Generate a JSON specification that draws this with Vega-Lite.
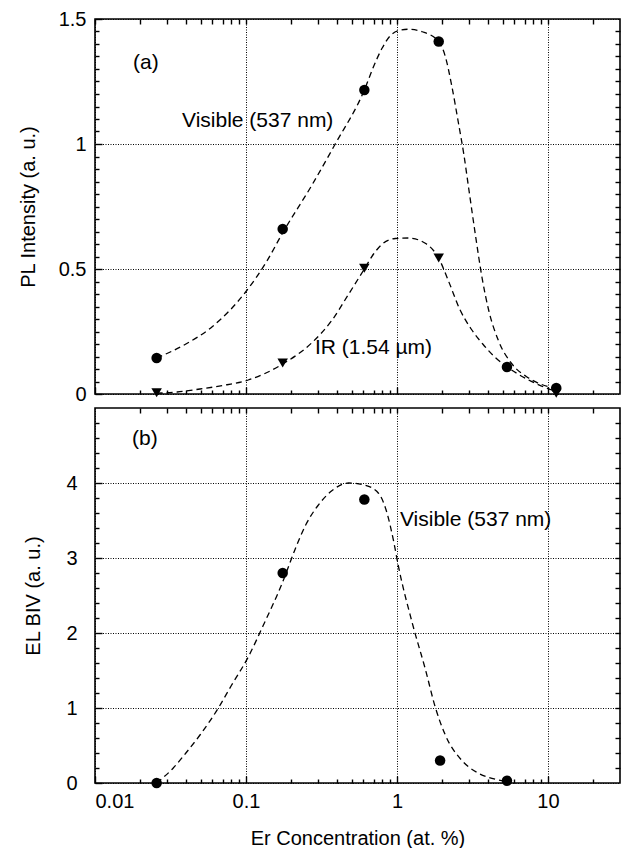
{
  "$schema": "https://vega.github.io/schema/vega-lite/v6.json",
  "padding": {"left": 17, "top": 8, "right": 4, "bottom": 0},
  "background": "white",
  "bounds": "flush",
  "spacing": 14,
  "config": {
    "font": "Liberation Sans",
    "view": {"stroke": "black", "strokeWidth": 1.6},
    "axis": {
      "domain": false, "ticks": true, "tickOpacity": 1,
      "tickColor": "black", "tickWidth": 1.4, "minExtent": 0, "zindex": 1,
      "gridColor": "black", "gridDash": [1, 1.5], "gridWidth": 1,
      "labelFont": "Liberation Sans", "labelFontSize": 20, "labelColor": "black",
      "titleFont": "Liberation Sans", "titleFontSize": 20, "titleFontWeight": "normal", "titleColor": "black"
    }
  },
  "datasets": {
    "curves": [
      {"panel": "a", "series": "vis", "x": 0.0256, "y": 0.144},
      {"panel": "a", "series": "vis", "x": 0.04, "y": 0.2},
      {"panel": "a", "series": "vis", "x": 0.06, "y": 0.27},
      {"panel": "a", "series": "vis", "x": 0.1, "y": 0.41},
      {"panel": "a", "series": "vis", "x": 0.137, "y": 0.53},
      {"panel": "a", "series": "vis", "x": 0.175, "y": 0.645},
      {"panel": "a", "series": "vis", "x": 0.273, "y": 0.835},
      {"panel": "a", "series": "vis", "x": 0.39, "y": 1.0},
      {"panel": "a", "series": "vis", "x": 0.608, "y": 1.216},
      {"panel": "a", "series": "vis", "x": 0.70, "y": 1.31},
      {"panel": "a", "series": "vis", "x": 0.80, "y": 1.385},
      {"panel": "a", "series": "vis", "x": 0.90, "y": 1.432},
      {"panel": "a", "series": "vis", "x": 1.02, "y": 1.453},
      {"panel": "a", "series": "vis", "x": 1.19, "y": 1.459},
      {"panel": "a", "series": "vis", "x": 1.47, "y": 1.449},
      {"panel": "a", "series": "vis", "x": 1.89, "y": 1.41},
      {"panel": "a", "series": "vis", "x": 2.09, "y": 1.35},
      {"panel": "a", "series": "vis", "x": 2.31, "y": 1.23},
      {"panel": "a", "series": "vis", "x": 2.56, "y": 1.08},
      {"panel": "a", "series": "vis", "x": 2.77, "y": 0.96},
      {"panel": "a", "series": "vis", "x": 2.99, "y": 0.82},
      {"panel": "a", "series": "vis", "x": 3.31, "y": 0.635},
      {"panel": "a", "series": "vis", "x": 3.66, "y": 0.465},
      {"panel": "a", "series": "vis", "x": 4.05, "y": 0.335},
      {"panel": "a", "series": "vis", "x": 4.71, "y": 0.212},
      {"panel": "a", "series": "vis", "x": 5.78, "y": 0.12},
      {"panel": "a", "series": "vis", "x": 7.45, "y": 0.064},
      {"panel": "a", "series": "vis", "x": 10.6, "y": 0.025},
      {"panel": "a", "series": "vis", "x": 11.35, "y": 0.02},
      {"panel": "a", "series": "ir", "x": 0.0256, "y": 0.003},
      {"panel": "a", "series": "ir", "x": 0.035, "y": 0.008},
      {"panel": "a", "series": "ir", "x": 0.0496, "y": 0.02},
      {"panel": "a", "series": "ir", "x": 0.075, "y": 0.037},
      {"panel": "a", "series": "ir", "x": 0.1035, "y": 0.056},
      {"panel": "a", "series": "ir", "x": 0.175, "y": 0.12},
      {"panel": "a", "series": "ir", "x": 0.273, "y": 0.205},
      {"panel": "a", "series": "ir", "x": 0.372, "y": 0.296},
      {"panel": "a", "series": "ir", "x": 0.479, "y": 0.4},
      {"panel": "a", "series": "ir", "x": 0.608, "y": 0.5},
      {"panel": "a", "series": "ir", "x": 0.70, "y": 0.56},
      {"panel": "a", "series": "ir", "x": 0.80, "y": 0.6},
      {"panel": "a", "series": "ir", "x": 0.975, "y": 0.622},
      {"panel": "a", "series": "ir", "x": 1.19, "y": 0.624},
      {"panel": "a", "series": "ir", "x": 1.54, "y": 0.603},
      {"panel": "a", "series": "ir", "x": 1.89, "y": 0.543},
      {"panel": "a", "series": "ir", "x": 2.2, "y": 0.45},
      {"panel": "a", "series": "ir", "x": 2.6, "y": 0.34},
      {"panel": "a", "series": "ir", "x": 3.1, "y": 0.26},
      {"panel": "a", "series": "ir", "x": 3.7, "y": 0.2},
      {"panel": "a", "series": "ir", "x": 4.5, "y": 0.145},
      {"panel": "a", "series": "ir", "x": 5.35, "y": 0.109},
      {"panel": "a", "series": "ir", "x": 7.45, "y": 0.056},
      {"panel": "a", "series": "ir", "x": 10.6, "y": 0.016},
      {"panel": "a", "series": "ir", "x": 11.35, "y": 0.01},
      {"panel": "b", "series": "vis", "x": 0.0256, "y": 0.0},
      {"panel": "b", "series": "vis", "x": 0.033, "y": 0.2},
      {"panel": "b", "series": "vis", "x": 0.04, "y": 0.4},
      {"panel": "b", "series": "vis", "x": 0.05, "y": 0.65},
      {"panel": "b", "series": "vis", "x": 0.0656, "y": 1.0},
      {"panel": "b", "series": "vis", "x": 0.08, "y": 1.3},
      {"panel": "b", "series": "vis", "x": 0.1035, "y": 1.68},
      {"panel": "b", "series": "vis", "x": 0.13, "y": 2.1},
      {"panel": "b", "series": "vis", "x": 0.175, "y": 2.68},
      {"panel": "b", "series": "vis", "x": 0.21, "y": 3.1},
      {"panel": "b", "series": "vis", "x": 0.25, "y": 3.45},
      {"panel": "b", "series": "vis", "x": 0.3, "y": 3.7},
      {"panel": "b", "series": "vis", "x": 0.372, "y": 3.9},
      {"panel": "b", "series": "vis", "x": 0.479, "y": 4.0},
      {"panel": "b", "series": "vis", "x": 0.615, "y": 3.97},
      {"panel": "b", "series": "vis", "x": 0.757, "y": 3.86},
      {"panel": "b", "series": "vis", "x": 0.859, "y": 3.6},
      {"panel": "b", "series": "vis", "x": 0.951, "y": 3.22},
      {"panel": "b", "series": "vis", "x": 1.02, "y": 2.9},
      {"panel": "b", "series": "vis", "x": 1.26, "y": 2.14},
      {"panel": "b", "series": "vis", "x": 1.54, "y": 1.52},
      {"panel": "b", "series": "vis", "x": 1.8, "y": 1.0},
      {"panel": "b", "series": "vis", "x": 2.09, "y": 0.64},
      {"panel": "b", "series": "vis", "x": 2.69, "y": 0.3},
      {"panel": "b", "series": "vis", "x": 3.47, "y": 0.13},
      {"panel": "b", "series": "vis", "x": 4.71, "y": 0.04},
      {"panel": "b", "series": "vis", "x": 5.35, "y": 0.02}
    ],
    "points": [
      {"panel": "a", "series": "vis", "x": 0.0256, "y": 0.144},
      {"panel": "a", "series": "vis", "x": 0.175, "y": 0.66},
      {"panel": "a", "series": "vis", "x": 0.608, "y": 1.216},
      {"panel": "a", "series": "vis", "x": 1.89, "y": 1.41},
      {"panel": "a", "series": "vis", "x": 5.35, "y": 0.108},
      {"panel": "a", "series": "vis", "x": 11.35, "y": 0.024},
      {"panel": "a", "series": "ir", "x": 0.0256, "y": 0.005},
      {"panel": "a", "series": "ir", "x": 0.175, "y": 0.124},
      {"panel": "a", "series": "ir", "x": 0.608, "y": 0.503},
      {"panel": "a", "series": "ir", "x": 1.89, "y": 0.544},
      {"panel": "a", "series": "ir", "x": 11.35, "y": 0.003},
      {"panel": "b", "series": "vis", "x": 0.0256, "y": 0.0},
      {"panel": "b", "series": "vis", "x": 0.175, "y": 2.8},
      {"panel": "b", "series": "vis", "x": 0.608, "y": 3.78},
      {"panel": "b", "series": "vis", "x": 1.93, "y": 0.3},
      {"panel": "b", "series": "vis", "x": 5.35, "y": 0.03}
    ],
    "labels": [
      {"panel": "a", "x": 0.01786, "y": 1.324, "text": "(a)"},
      {"panel": "a", "x": 0.0377, "y": 1.092, "text": "Visible (537 nm)"},
      {"panel": "a", "x": 0.286, "y": 0.184, "text": "IR (1.54 µm)"},
      {"panel": "b", "x": 0.01758, "y": 4.59, "text": "(b)"},
      {"panel": "b", "x": 1.047, "y": 3.51, "text": "Visible (537 nm)"}
    ]
  },
  "vconcat": [
    {
      "width": 525,
      "height": 375,
      "layer": [
        {
          "data": {"name": "curves"},
          "transform": [{"filter": "datum.panel == 'a'"}],
          "mark": {"type": "line", "interpolate": "monotone", "strokeDash": [6, 4], "strokeWidth": 1.3, "color": "black", "clip": true},
          "encoding": {
            "x": {"field": "x", "type": "quantitative",
              "scale": {"type": "log", "domain": [0.01, 30], "nice": false},
              "axis": {"orient": "bottom", "title": null, "labels": false, "grid": true,
                "values": [0.01, 0.1, 1, 10], "tickSize": 7, "offset": -7}},
            "y": {"field": "y", "type": "quantitative",
              "scale": {"domain": [0, 1.5], "nice": false},
              "axis": {"orient": "left", "title": "PL Intensity (a. u.)", "grid": true,
                "values": [0, 0.5, 1, 1.5], "labelExpr": "format(datum.value, '~g')",
                "tickSize": 7, "offset": -7, "labelPadding": 9, "titlePadding": 20}},
            "detail": {"field": "series"}
          }
        },
        {
          "data": {"name": "points"},
          "transform": [{"filter": "datum.panel == 'a'"}],
          "mark": {"type": "point", "filled": true, "color": "black", "opacity": 1, "size": 110},
          "encoding": {
            "x": {"field": "x", "type": "quantitative",
              "scale": {"type": "log", "domain": [0.01, 30], "nice": false},
              "axis": {"orient": "bottom", "title": null, "labels": false, "grid": false,
                "values": [0.02,0.03,0.04,0.05,0.06,0.07,0.08,0.09,0.2,0.3,0.4,0.5,0.6,0.7,0.8,0.9,2,3,4,5,6,7,8,9,20],
                "tickSize": 4, "offset": -4}},
            "y": {"field": "y", "type": "quantitative",
              "scale": {"domain": [0, 1.5], "nice": false},
              "axis": {"orient": "left", "title": null, "labels": false, "grid": false,
                "values": [0.05,0.1,0.15,0.2,0.25,0.3,0.35,0.4,0.45,0.55,0.6,0.65,0.7,0.75,0.8,0.85,0.9,0.95,1.05,1.1,1.15,1.2,1.25,1.3,1.35,1.4,1.45],
                "tickSize": 4, "offset": -4}},
            "shape": {"field": "series", "type": "nominal", "scale": {"domain": ["vis", "ir"], "range": ["circle", "triangle-down"]}, "legend": null}
          }
        },
        {
          "data": {"name": "labels"},
          "transform": [{"filter": "datum.panel == 'a'"}],
          "mark": {"type": "text", "align": "left", "baseline": "middle", "fontSize": 21, "font": "Liberation Sans", "color": "black"},
          "encoding": {
            "x": {"field": "x", "type": "quantitative", "scale": {"type": "log", "domain": [0.01, 30], "nice": false},
              "axis": {"orient": "top", "title": null, "labels": false, "grid": false,
                "values": [0.01,0.02,0.03,0.04,0.05,0.06,0.07,0.08,0.09,0.1,0.2,0.3,0.4,0.5,0.6,0.7,0.8,0.9,1,2,3,4,5,6,7,8,9,10,20],
                "tickSize": 5, "offset": -5}},
            "y": {"field": "y", "type": "quantitative", "scale": {"domain": [0, 1.5], "nice": false},
              "axis": {"orient": "right", "title": null, "labels": false, "grid": false,
                "values": [0.05,0.1,0.15,0.2,0.25,0.3,0.35,0.4,0.45,0.5,0.55,0.6,0.65,0.7,0.75,0.8,0.85,0.9,0.95,1,1.05,1.1,1.15,1.2,1.25,1.3,1.35,1.4,1.45],
                "tickSize": 5, "offset": -5}},
            "text": {"field": "text"}
          }
        }
      ],
      "resolve": {"axis": {"x": "independent", "y": "independent"}}
    },
    {
      "width": 525,
      "height": 375,
      "layer": [
        {
          "data": {"name": "curves"},
          "transform": [{"filter": "datum.panel == 'b'"}],
          "mark": {"type": "line", "interpolate": "monotone", "strokeDash": [6, 4], "strokeWidth": 1.3, "color": "black", "clip": true},
          "encoding": {
            "x": {"field": "x", "type": "quantitative",
              "scale": {"type": "log", "domain": [0.01, 30], "nice": false},
              "axis": {"orient": "bottom", "title": "Er Concentration (at. %)", "grid": true,
                "values": [0.01, 0.1, 1, 10], "labelExpr": "format(datum.value, '~g')",
                "tickSize": 7, "offset": -7, "labelPadding": 8, "titlePadding": 17}},
            "y": {"field": "y", "type": "quantitative",
              "scale": {"domain": [0, 5], "nice": false},
              "axis": {"orient": "left", "title": "EL BIV (a. u.)", "grid": true,
                "values": [0, 1, 2, 3, 4], "labelExpr": "format(datum.value, '~g')",
                "tickSize": 7, "offset": -7, "labelPadding": 18, "titlePadding": 22}},
            "detail": {"field": "series"}
          }
        },
        {
          "data": {"name": "points"},
          "transform": [{"filter": "datum.panel == 'b'"}],
          "mark": {"type": "point", "filled": true, "color": "black", "opacity": 1, "size": 110, "shape": "circle"},
          "encoding": {
            "x": {"field": "x", "type": "quantitative",
              "scale": {"type": "log", "domain": [0.01, 30], "nice": false},
              "axis": {"orient": "bottom", "title": null, "labels": false, "grid": false,
                "values": [0.02,0.03,0.04,0.05,0.06,0.07,0.08,0.09,0.2,0.3,0.4,0.5,0.6,0.7,0.8,0.9,2,3,4,5,6,7,8,9,20],
                "tickSize": 4, "offset": -4}},
            "y": {"field": "y", "type": "quantitative",
              "scale": {"domain": [0, 5], "nice": false},
              "axis": {"orient": "left", "title": null, "labels": false, "grid": false,
                "values": [0.2,0.4,0.6,0.8,1.2,1.4,1.6,1.8,2.2,2.4,2.6,2.8,3.2,3.4,3.6,3.8,4.2,4.4,4.6,4.8],
                "tickSize": 4, "offset": -4}}
          }
        },
        {
          "data": {"name": "labels"},
          "transform": [{"filter": "datum.panel == 'b'"}],
          "mark": {"type": "text", "align": "left", "baseline": "middle", "fontSize": 21, "font": "Liberation Sans", "color": "black"},
          "encoding": {
            "x": {"field": "x", "type": "quantitative", "scale": {"type": "log", "domain": [0.01, 30], "nice": false},
              "axis": {"orient": "top", "title": null, "labels": false, "grid": false,
                "values": [0.02,0.03,0.04,0.05,0.06,0.07,0.08,0.09,0.1,0.2,0.3,0.4,0.5,0.6,0.7,0.8,0.9,1,2,3,4,5,6,7,8,9,10,20],
                "tickSize": 5, "offset": -5}},
            "y": {"field": "y", "type": "quantitative", "scale": {"domain": [0, 5], "nice": false},
              "axis": {"orient": "right", "title": null, "labels": false, "grid": false,
                "values": [0.2,0.4,0.6,0.8,1,1.2,1.4,1.6,1.8,2,2.2,2.4,2.6,2.8,3,3.2,3.4,3.6,3.8,4,4.2,4.4,4.6,4.8],
                "tickSize": 5, "offset": -5}},
            "text": {"field": "text"}
          }
        }
      ],
      "resolve": {"axis": {"x": "independent", "y": "independent"}}
    }
  ]
}
